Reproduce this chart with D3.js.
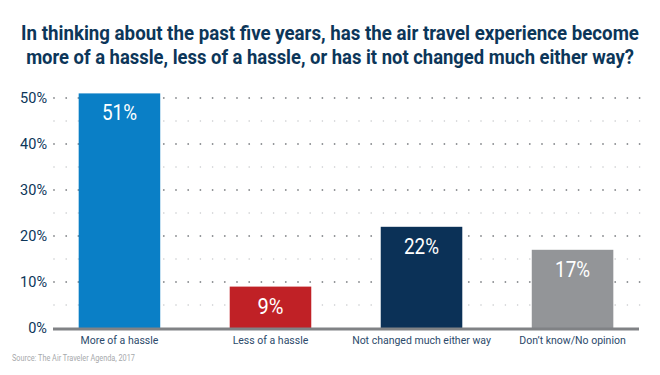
<!DOCTYPE html>
<html><head><meta charset="utf-8">
<script src="https://cdn.jsdelivr.net/npm/d3@7"></script>
<style>body{margin:0;background:#fff}svg{display:block}</style>
</head><body>
<svg id="c" width="660" height="375"></svg>
<script>
const titleLines = ["In thinking about the past five years, has the air travel experience become",
  "more of a hassle, less of a hassle, or has it not changed much either way?"];
const categories = ["More of a hassle","Less of a hassle","Not changed much either way","Don\u2019t know/No opinion"];
const values = [51, 9, 22, 17];
const colors = ["#0a7fc6","#c02126","#0b3157","#939598"];
const yTicks = [0,10,20,30,40,50];
const minorTicks = [5,15,25,35,45];
const source = "Source: The Air Traveler Agenda, 2017";

const svg = d3.select("#c");
const plotLeft = 53, plotRight = 639, plotTop = 98, plotBottom = 328;
const y = d3.scaleLinear().domain([0,50]).range([plotBottom, plotTop]);
const x = d3.scaleBand().domain(categories).range([plotLeft, plotRight]).paddingInner(0.46).paddingOuter(0.17);

const font = "Roboto,'Open Sans',sans-serif";
const titleWidths = [618, 608];

// squeeze a text horizontally to a target width (condensed look)
function squeeze(sel, w, cx, anchorMid) {
  sel.each(function(d,i){
    const el = d3.select(this);
    const tw = typeof w === "function" ? w(d,i) : w;
    const nat = this.getComputedTextLength();
    const s = Math.min(1, tw / nat);
    const ox = +el.attr("x") || 0;
    el.attr("transform", `translate(${ox},0) scale(${s},1) translate(${-ox},0)`);
  });
}

svg.append("g").selectAll("text").data(titleLines).join("text")
  .attr("x", 330).attr("y", (d,i)=>40 + i*24)
  .attr("text-anchor","middle").attr("fill","#0c3659")
  .style("font-family",font).style("font-size","21px").style("font-weight","700")
  .text(d=>d)
  .call(squeeze, (d,i)=>titleWidths[i]);

// dotted grid
const dotXs = d3.range(54, 640, 12.2);
const grid = svg.append("g");
yTicks.filter(t=>t>0).forEach(t=>{
  grid.append("g").selectAll("circle").data(dotXs).join("circle")
    .attr("cx", d=>d).attr("cy", y(t)).attr("r", 0.9).attr("fill","#8a8d90");
});
minorTicks.forEach(t=>{
  grid.append("g").selectAll("circle").data(dotXs).join("circle")
    .attr("cx", d=>d).attr("cy", y(t)).attr("r", 0.8).attr("fill","#c8cacc");
});

// y axis labels
const yAxis = d3.axisLeft(y).tickValues(yTicks).tickSize(0).tickPadding(0).tickFormat(d=>d+"%");
const ya = svg.append("g").attr("transform",`translate(47,0)`).call(yAxis);
ya.select(".domain").remove();
ya.selectAll("text").attr("fill","#0c3659").style("font-family",font).style("font-size","14.5px")
  .call(squeeze, d=>d===0?20:27);

// bars
svg.append("g").selectAll("rect").data(values).join("rect")
  .attr("x",(d,i)=>x(categories[i])).attr("width",x.bandwidth())
  .attr("y",d=>y(d)).attr("height",d=>plotBottom-y(d))
  .attr("fill",(d,i)=>colors[i]);

svg.append("g").selectAll("text").data(values).join("text")
  .attr("x",(d,i)=>x(categories[i])+x.bandwidth()/2).attr("y",d=>y(d)+27)
  .attr("text-anchor","middle").attr("fill","#fff")
  .style("font-family",font).style("font-size","22px")
  .text(d=>d+"%")
  .call(squeeze, d=>d<10?26:35);

// baseline
svg.append("line").attr("x1",plotLeft).attr("x2",plotRight).attr("y1",plotBottom+1).attr("y2",plotBottom+1)
  .attr("stroke","#808285").attr("stroke-width",3);

// x labels
const xAxis = d3.axisBottom(x).tickSize(0).tickPadding(0);
const xa = svg.append("g").attr("transform",`translate(0,${plotBottom+9})`).call(xAxis);
xa.select(".domain").remove();
xa.selectAll("text").attr("fill","#2c4a6b").style("font-family",font).style("font-size","10.5px");

svg.append("text").attr("x",12).attr("y",361).attr("fill","#a7a9ac")
  .style("font-family",font).style("font-size","9.5px").text(source)
  .call(squeeze, 123);
</script>
</body></html>
